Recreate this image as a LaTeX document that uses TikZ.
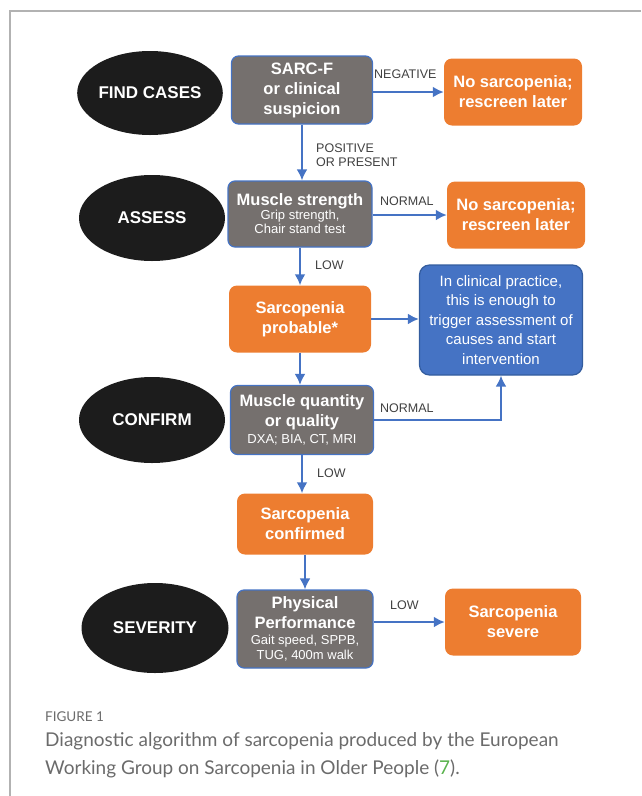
\documentclass[tikz,border=0pt]{standalone}
\usepackage{fontspec}
\setmainfont{Liberation Sans}
\newfontfamily\capfont{Lato}
\usetikzlibrary{positioning,shapes.geometric,arrows.meta}
\definecolor{stageclr}{rgb}{0.11, 0.11, 0.11}
\definecolor{testclr}{rgb}{0.46, 0.44, 0.43}
\definecolor{outclr}{rgb}{0.93, 0.49, 0.19}
\definecolor{noteclr}{rgb}{0.27, 0.45, 0.77}
\definecolor{rimclr}{rgb}{0.20, 0.36, 0.62}
\definecolor{flowclr}{rgb}{0.27, 0.45, 0.77}
\definecolor{condclr}{rgb}{0.25, 0.25, 0.25}
\definecolor{capclr}{rgb}{0.42, 0.42, 0.42}
\definecolor{citeclr}{rgb}{0.35, 0.70, 0.30}
\definecolor{frameclr}{rgb}{0.70, 0.70, 0.70}
\newcommand{\detail}[1]{{\mdseries\fontsize{13}{14}\selectfont #1}}
\tikzset{ %
  ,>={Latex[length=11pt, width=11pt]}
  ,x=1pt, y=-1pt
  ,every node/.style={font=\bfseries\fontsize{16.5}{20}\selectfont, align=center}
  ,stage/.style={ellipse, fill=stageclr, text=white, inner sep=0, minimum width=146pt, minimum height=86pt, font=\bfseries\fontsize{17}{20}\selectfont}
  ,test/.style={draw=flowclr, line width=1.2pt, rounded corners=7pt, fill=testclr, text=white, inner sep=0, minimum width=141pt, minimum height=68pt}
  ,outcome/.style={rounded corners=8pt, fill=outclr, text=white, inner sep=0, minimum width=138pt, minimum height=67pt}
  ,note/.style={draw=rimclr, line width=1.2pt, rounded corners=10pt, fill=noteclr, text=white, inner sep=0, minimum width=163pt, minimum height=110pt, font=\fontsize{15}{19.5}\selectfont}
  ,cond/.style={inner sep=0, anchor=west, text=condclr, font=\fontsize{12.5}{14}\selectfont, align=left}
  ,flow/.style={->, draw=flowclr, line width=2.2pt}
  ,capline/.style={anchor=west, inner sep=0, text=capclr, font=\capfont\fontsize{19}{22}\selectfont}
}
\begin{document}
\begin{tikzpicture}
    \useasboundingbox (0,0) rectangle (641,796);
    \draw[frameclr, line width=1.5pt] (10,796) -- (10,11) -- (641,11);

    % stages
    \draw
    node[stage, minimum width=144pt, minimum height=84pt] (find) at (150,93) {FIND CASES}
    node[stage] (assess) at (152,218) {ASSESS}
    node[stage] (confirm) at (152,420) {CONFIRM}
    node[stage, minimum width=147pt, minimum height=90pt] (severity) at (155,628) {SEVERITY};

    % tests and outcomes
    \draw
    node[test] (sarcf) at (302,90) {SARC-F\\or clinical\\suspicion}
    node[test, minimum width=144pt, minimum height=66pt] (strength) at (300,214)
      {Muscle strength\\[-6pt]\detail{Grip strength,}\\[-6pt]\detail{Chair stand test}}
    node[test, minimum width=143pt, minimum height=69pt] (quantity) at (302,420)
      {Muscle quantity\\or quality\\[-3pt]\detail{DXA; BIA, CT, MRI}}
    node[test, minimum width=136pt, minimum height=78pt] (perform) at (305,629)
      {Physical\\Performance\\[-4pt]\detail{Gait speed, SPPB,}\\[-5pt]\detail{TUG, 400m walk}}
    node[outcome] (nosarc1) at (513,92) {No sarcopenia;\\rescreen later}
    node[outcome] (nosarc2) at (516,215) {No sarcopenia;\\rescreen later}
    node[outcome, minimum width=142pt] (probable) at (300,319) {Sarcopenia\\probable*}
    node[outcome, minimum width=136pt, minimum height=61pt] (confirmed) at (305,524) {Sarcopenia\\confirmed}
    node[outcome, minimum width=136pt] (severe) at (513,622) {Sarcopenia\\severe}
    node[note] (practice) at (501,320)
      {In clinical practice,\\this is enough to\\trigger assessment of\\causes and start\\intervention};

    % conditions
    \draw
    node[cond] at (374,74) {NEGATIVE}
    node[cond] at (316,155) {POSITIVE\\OR PRESENT}
    node[cond] at (380,201) {NORMAL}
    node[cond] at (315,265) {LOW}
    node[cond] at (380,408) {NORMAL}
    node[cond] at (317,473) {LOW}
    node[cond] at (390,605) {LOW};

    \draw[flow] (sarcf.south) -- (sarcf.south |- strength.north);
    \draw[flow] (nosarc1.west -| sarcf.east) -- (nosarc1.west);
    \draw[flow] (nosarc2.west -| strength.east) -- (nosarc2.west);
    \draw[flow] (strength.south) -- (strength.south |- probable.north);
    \draw[flow] (probable.east) -- (probable.east -| practice.west);
    \draw[flow] (probable.south) -- (probable.south |- quantity.north);
    \draw[flow] (quantity.east) -| (practice.south);
    \draw[flow] (quantity.south) -- (quantity.south |- confirmed.north);
    \draw[flow] (confirmed.south) -- (confirmed.south |- perform.north);
    \draw[flow] (severe.west -| perform.east) -- (severe.west);

    % caption
    \draw
    node[capline, font=\capfont\fontsize{13.5}{16}\selectfont] (fig) at (45,717) {FIGURE 1}
    node[capline] (cap1) at (45,741) {Diagnostic algorithm of sarcopenia produced by the European}
    node[capline] (cap2) at (45,769) {Working Group on Sarcopenia in Older People (\textcolor{citeclr}{7}).};
  \end{tikzpicture}
\end{document}
